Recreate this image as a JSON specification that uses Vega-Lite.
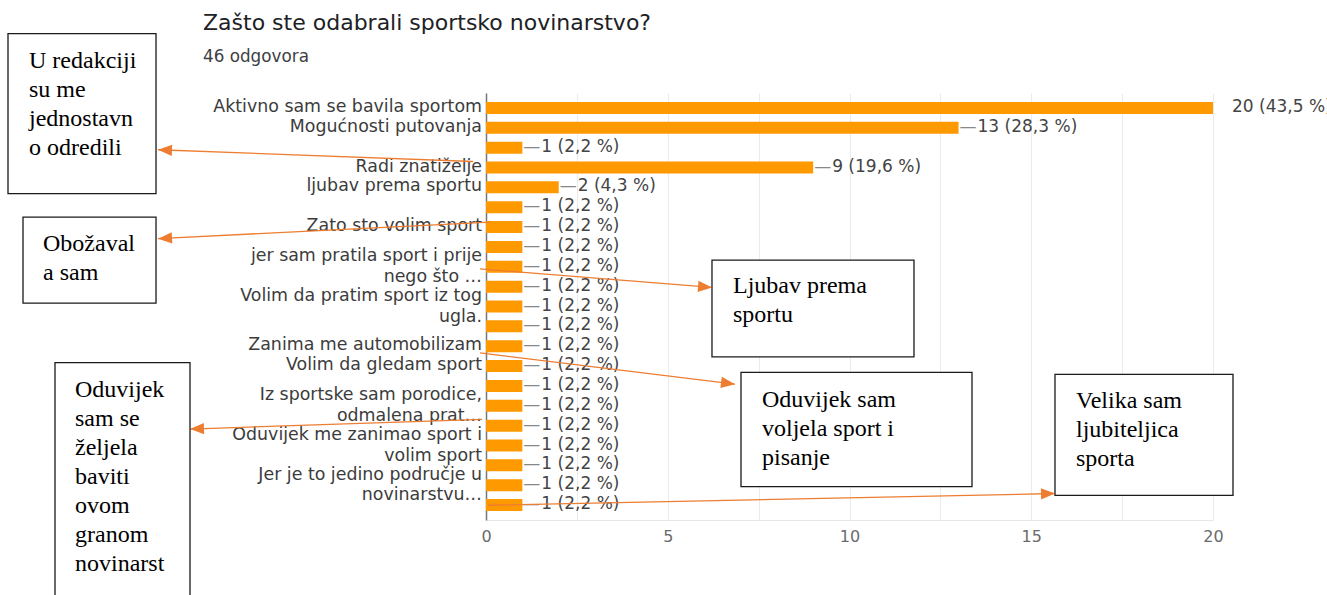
{
  "$schema": "https://vega.github.io/schema/vega-lite/v6.json",
  "autosize": {"type": "none"},
  "padding": {"left": 486, "top": 93, "right": 114, "bottom": 75},
  "width": 727,
  "height": 427,
  "background": "white",
  "config": {
    "view": {"stroke": null},
    "font": "DejaVu Sans",
    "axisX": {"grid": true, "gridColor": "#ebebeb", "ticks": false, "tickSize": 0, "domain": true, "domainColor": "#e6e6e6",
              "labelFont": "DejaVu Sans", "labelFontSize": 16, "labelColor": "#666666", "labelPadding": 8, "labelFlush": false, "title": null},
    "axisY": {"labels": false, "ticks": false, "grid": false, "domain": true, "domainColor": "#777777", "domainWidth": 1.5, "title": null}
  },
  "datasets": {
    "bars": [
      {"row": 0, "label": "Aktivno sam se bavila sportom", "count": 20, "vlabel": "20 (43,5 %)"},
      {"row": 1, "label": "Mogućnosti putovanja", "count": 13, "vlabel": "13 (28,3 %)"},
      {"row": 2, "label": "", "count": 1, "vlabel": "1 (2,2 %)"},
      {"row": 3, "label": "Radi znatiželje", "count": 9, "vlabel": "9 (19,6 %)"},
      {"row": 4, "label": "ljubav prema sportu", "count": 2, "vlabel": "2 (4,3 %)"},
      {"row": 5, "label": "", "count": 1, "vlabel": "1 (2,2 %)"},
      {"row": 6, "label": "Zato sto volim sport", "count": 1, "vlabel": "1 (2,2 %)"},
      {"row": 7, "label": "", "count": 1, "vlabel": "1 (2,2 %)"},
      {"row": 8, "label": "jer sam pratila sport i prije\nnego što …", "count": 1, "vlabel": "1 (2,2 %)"},
      {"row": 9, "label": "", "count": 1, "vlabel": "1 (2,2 %)"},
      {"row": 10, "label": "Volim da pratim sport iz tog\nugla.", "count": 1, "vlabel": "1 (2,2 %)"},
      {"row": 11, "label": "", "count": 1, "vlabel": "1 (2,2 %)"},
      {"row": 12, "label": "Zanima me automobilizam", "count": 1, "vlabel": "1 (2,2 %)"},
      {"row": 13, "label": "Volim da gledam sport", "count": 1, "vlabel": "1 (2,2 %)"},
      {"row": 14, "label": "", "count": 1, "vlabel": "1 (2,2 %)"},
      {"row": 15, "label": "Iz sportske sam porodice,\nodmalena prat…", "count": 1, "vlabel": "1 (2,2 %)"},
      {"row": 16, "label": "", "count": 1, "vlabel": "1 (2,2 %)"},
      {"row": 17, "label": "Oduvijek me zanimao sport i\nvolim sport", "count": 1, "vlabel": "1 (2,2 %)"},
      {"row": 18, "label": "", "count": 1, "vlabel": "1 (2,2 %)"},
      {"row": 19, "label": "Jer je to jedino područje u\nnovinarstvu…", "count": 1, "vlabel": "1 (2,2 %)"},
      {"row": 20, "label": "", "count": 1, "vlabel": "1 (2,2 %)"}
    ],
    "boxes": [
      {"x1": -13.15, "x2": -9.078, "y1": -3.746, "y2": 4.32, "tx": -12.572, "ty": -2.369, "text": "U redakciji\nsu me\njednostavn\no odredili"},
      {"x1": -12.737, "x2": -9.078, "y1": 5.5, "y2": 9.828, "tx": -12.187, "ty": 6.877, "text": "Obožaval\na sam"},
      {"x1": 6.217, "x2": 11.774, "y1": 7.664, "y2": 12.533, "tx": 6.795, "ty": 8.943, "text": "Ljubav prema\nsportu"},
      {"x1": 7.015, "x2": 13.37, "y1": 13.32, "y2": 19.074, "tx": 7.593, "ty": 14.697, "text": "Oduvijek sam\nvoljela sport i\npisanje"},
      {"x1": -11.857, "x2": -8.143, "y1": 12.828, "y2": 25, "tx": -11.307, "ty": 14.205, "text": "Oduvijek\nsam se\nželjela\nbaviti\novom\ngranom\nnovinarst"},
      {"x1": 15.653, "x2": 20.55, "y1": 13.418, "y2": 19.516, "tx": 16.231, "ty": 14.746, "text": "Velika sam\nljubiteljica\nsporta"}
    ],
    "arrows": [
      {"x1": -0.358, "y1": 2.697, "x2": -9.023, "y2": 2.107, "angle": 182.2},
      {"x1": 0.11, "y1": 5.746, "x2": -9.023, "y2": 6.582, "angle": 177.1},
      {"x1": -0.165, "y1": 8.107, "x2": 6.217, "y2": 9.041, "angle": 4.7},
      {"x1": -0.165, "y1": 12.336, "x2": 6.85, "y2": 13.91, "angle": 7.2},
      {"x1": -0.11, "y1": 15.68, "x2": -8.143, "y2": 16.172, "angle": 178.0},
      {"x1": 0.055, "y1": 20.008, "x2": 15.653, "y2": 19.418, "angle": 358.8}
    ]
  },
  "layer": [
    {
      "data": {"name": "bars"},
      "mark": {"type": "bar", "orient": "horizontal", "height": 12, "color": "#ff9900"},
      "encoding": {
        "x": {"field": "count", "type": "quantitative", "stack": null,
              "scale": {"domain": [0, 20], "nice": false, "zero": false},
              "axis": {"title": null, "values": [0, 2.5, 5, 7.5, 10, 12.5, 15, 17.5, 20],
                       "labelExpr": "datum.value % 5 === 0 ? datum.label : ''",
                       "labelFontSize": 16, "labelFlush": false, "labelColor": "#6b6b6b", "labelPadding": 8}},
        "y": {"field": "row", "type": "quantitative",
              "scale": {"domain": [-0.5, 20.5], "nice": false, "zero": false, "reverse": true},
              "axis": {"title": null}}
      }
    },
    {
      "data": {"name": "bars"},
      "transform": [{"filter": "indexof(datum.label, '\\n') < 0"}],
      "mark": {"type": "text", "align": "right", "baseline": "middle", "dx": -4, "dy": -1, "fontSize": 17.4,
               "lineBreak": "\n", "lineHeight": 20.5, "color": "#3c3c3c"},
      "encoding": {
        "x": {"datum": 0, "type": "quantitative", "scale": {"domain": [0, 20], "nice": false, "zero": false}, "axis": {"title": null}},
        "y": {"field": "row", "type": "quantitative", "scale": {"domain": [-0.5, 20.5], "nice": false, "zero": false, "reverse": true}, "axis": {"title": null}},
        "text": {"field": "label"}
      }
    },
    {
      "data": {"name": "bars"},
      "transform": [{"filter": "indexof(datum.label, '\\n') >= 0"}],
      "mark": {"type": "text", "align": "right", "baseline": "middle", "dx": -4, "dy": -10.5, "fontSize": 17.4,
               "lineBreak": "\n", "lineHeight": 20.5, "color": "#3c3c3c"},
      "encoding": {
        "x": {"datum": 0, "type": "quantitative", "scale": {"domain": [0, 20], "nice": false, "zero": false}, "axis": {"title": null}},
        "y": {"field": "row", "type": "quantitative", "scale": {"domain": [-0.5, 20.5], "nice": false, "zero": false, "reverse": true}, "axis": {"title": null}},
        "text": {"field": "label"}
      }
    },
    {
      "data": {"name": "bars"},
      "transform": [{"filter": "datum.row > 0"}],
      "mark": {"type": "text", "align": "left", "baseline": "middle", "dx": 1, "dy": -1, "fontSize": 17, "color": "#888888"},
      "encoding": {
        "x": {"field": "count", "type": "quantitative", "scale": {"domain": [0, 20], "nice": false, "zero": false}, "axis": {"title": null}},
        "y": {"field": "row", "type": "quantitative", "scale": {"domain": [-0.5, 20.5], "nice": false, "zero": false, "reverse": true}, "axis": {"title": null}},
        "text": {"value": "—"}
      }
    },
    {
      "data": {"name": "bars"},
      "mark": {"type": "text", "align": "left", "baseline": "middle", "dx": 19, "dy": -1, "fontSize": 17, "color": "#444444"},
      "encoding": {
        "x": {"field": "count", "type": "quantitative", "scale": {"domain": [0, 20], "nice": false, "zero": false}, "axis": {"title": null}},
        "y": {"field": "row", "type": "quantitative", "scale": {"domain": [-0.5, 20.5], "nice": false, "zero": false, "reverse": true}, "axis": {"title": null}},
        "text": {"field": "vlabel"}
      }
    },
    {
      "data": {"values": [{}]},
      "mark": {"type": "text", "align": "left", "baseline": "middle", "dy": -4, "fontSize": 22, "color": "#202124"},
      "encoding": {
        "x": {"datum": -7.785, "type": "quantitative", "scale": {"domain": [0, 20], "nice": false, "zero": false}, "axis": {"title": null}},
        "y": {"datum": -4.09, "type": "quantitative", "scale": {"domain": [-0.5, 20.5], "nice": false, "zero": false, "reverse": true}, "axis": {"title": null}},
        "text": {"value": "Zašto ste odabrali sportsko novinarstvo?"}
      }
    },
    {
      "data": {"values": [{}]},
      "mark": {"type": "text", "align": "left", "baseline": "middle", "dy": -4, "fontSize": 16.8, "color": "#3c4043"},
      "encoding": {
        "x": {"datum": -7.785, "type": "quantitative", "scale": {"domain": [0, 20], "nice": false, "zero": false}, "axis": {"title": null}},
        "y": {"datum": -2.369, "type": "quantitative", "scale": {"domain": [-0.5, 20.5], "nice": false, "zero": false, "reverse": true}, "axis": {"title": null}},
        "text": {"value": "46 odgovora"}
      }
    },
    {
      "data": {"name": "arrows"},
      "mark": {"type": "rule", "color": "#ed7d31", "strokeWidth": 1.3},
      "encoding": {
        "x": {"field": "x1", "type": "quantitative", "scale": {"domain": [0, 20], "nice": false, "zero": false}, "axis": {"title": null}},
        "y": {"field": "y1", "type": "quantitative", "scale": {"domain": [-0.5, 20.5], "nice": false, "zero": false, "reverse": true}, "axis": {"title": null}},
        "x2": {"field": "x2"},
        "y2": {"field": "y2"}
      }
    },
    {
      "data": {"name": "boxes"},
      "mark": {"type": "rect", "fill": "white", "stroke": "#1a1a1a", "strokeWidth": 1.3},
      "encoding": {
        "x": {"field": "x1", "type": "quantitative", "scale": {"domain": [0, 20], "nice": false, "zero": false}, "axis": {"title": null}},
        "y": {"field": "y1", "type": "quantitative", "scale": {"domain": [-0.5, 20.5], "nice": false, "zero": false, "reverse": true}, "axis": {"title": null}},
        "x2": {"field": "x2"},
        "y2": {"field": "y2"}
      }
    },
    {
      "data": {"name": "boxes"},
      "mark": {"type": "text", "align": "left", "baseline": "middle", "font": "Liberation Serif", "fontSize": 24,
               "lineBreak": "\n", "lineHeight": 29, "color": "#000000"},
      "encoding": {
        "x": {"field": "tx", "type": "quantitative", "scale": {"domain": [0, 20], "nice": false, "zero": false}, "axis": {"title": null}},
        "y": {"field": "ty", "type": "quantitative", "scale": {"domain": [-0.5, 20.5], "nice": false, "zero": false, "reverse": true}, "axis": {"title": null}},
        "text": {"field": "text"}
      }
    },
    {
      "data": {"name": "arrows"},
      "mark": {"type": "point", "shape": "M0,0L-2,-0.8L-2,0.8Z", "size": 196, "filled": true,
               "color": "#ed7d31", "opacity": 1, "strokeWidth": 0},
      "encoding": {
        "x": {"field": "x2", "type": "quantitative", "scale": {"domain": [0, 20], "nice": false, "zero": false}, "axis": {"title": null}},
        "y": {"field": "y2", "type": "quantitative", "scale": {"domain": [-0.5, 20.5], "nice": false, "zero": false, "reverse": true}, "axis": {"title": null}},
        "angle": {"field": "angle", "type": "quantitative", "scale": null}
      }
    }
  ]
}
